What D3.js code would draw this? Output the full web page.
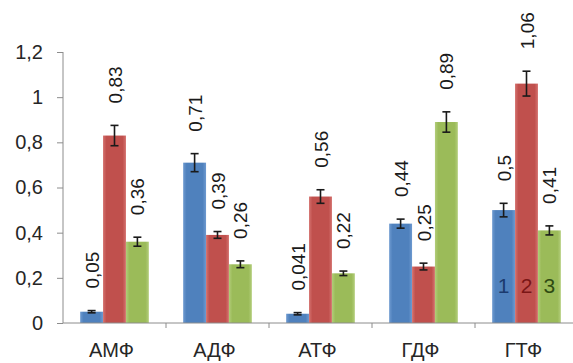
<!DOCTYPE html>
<html>
<head>
<meta charset="utf-8">
<script src="https://cdn.jsdelivr.net/npm/d3@7"></script>
<style>
  body { margin: 0; background: #fff; }
  svg text { font-family: "Liberation Sans", Arial, sans-serif; }
</style>
</head>
<body>
<div id="chart"></div>
<script>
// data
var categories = ["АМФ", "АДФ", "АТФ", "ГДФ", "ГТФ"];
var series = ["1", "2", "3"];
var values1 = [0.05, 0.71, 0.041, 0.44, 0.5];
var values2 = [0.83, 0.39, 0.56, 0.25, 1.06];
var values3 = [0.36, 0.26, 0.22, 0.89, 0.41];
var errors1 = [0.005, 0.04, 0.005, 0.02, 0.03];
var errors2 = [0.045, 0.015, 0.03, 0.015, 0.055];
var errors3 = [0.02, 0.015, 0.01, 0.045, 0.02];
var yTicks = [0, 0.2, 0.4, 0.6, 0.8, 1, 1.2];

var colors = ["#4f81bd", "#c0504d", "#9bbb59"];
var lightColors = ["#6e9ad0", "#d4716e", "#b2cd7a"];
var numColors = ["#1b3a6e", "#7a1616", "#2f4a12"];

var width = 573, height = 363;
var margin = {top: 52, right: -5, bottom: 40, left: 63};

var data = [];
categories.forEach(function(c, i) {
  [values1, values2, values3].forEach(function(arr, s) {
    var err = [errors1, errors2, errors3][s];
    data.push({cat: c, s: s, key: series[s], v: arr[i], e: err[i]});
  });
});

var svg = d3.select("#chart").append("svg")
  .attr("width", width)
  .attr("height", height);

// gradients, lighter at the edges like the old office bars
var defs = svg.append("defs");
colors.forEach(function(c, i) {
  var g = defs.append("linearGradient")
    .attr("id", "grad" + i)
    .attr("x1", "0").attr("x2", "1").attr("y1", "0").attr("y2", "0");
  g.append("stop").attr("offset", "0").attr("stop-color", lightColors[i]);
  g.append("stop").attr("offset", "0.15").attr("stop-color", c);
  g.append("stop").attr("offset", "0.85").attr("stop-color", c);
  g.append("stop").attr("offset", "1").attr("stop-color", lightColors[i]);
});

var x0 = d3.scaleBand()
  .domain(categories)
  .range([margin.left, width - margin.right])
  .padding(0);

var x1 = d3.scaleBand()
  .domain(series)
  .range([0, x0.bandwidth()])
  .paddingInner(0)
  .paddingOuter(0.75);

var y = d3.scaleLinear()
  .domain([0, 1.2])
  .range([height - margin.bottom, margin.top]);

var fmt = function(v) { return String(v).replace(".", ","); };

// y axis
var yAxis = svg.append("g")
  .attr("transform", "translate(" + margin.left + ",0)")
  .call(d3.axisLeft(y).tickValues(yTicks).tickSize(6).tickPadding(14).tickFormat(fmt));
yAxis.select(".domain").attr("stroke", "#8c8c8c").attr("d", "M0," + y(1.2) + "V" + y(0));
yAxis.selectAll(".tick line").attr("stroke", "#8c8c8c");
yAxis.selectAll(".tick text")
  .attr("fill", "#262626")
  .style("font-size", "20px");

// bars
var bars = svg.append("g");
bars.selectAll("rect")
  .data(data)
  .enter().append("rect")
  .attr("x", function(d) { return x0(d.cat) + x1(d.key); })
  .attr("y", function(d) { return y(d.v); })
  .attr("width", x1.bandwidth())
  .attr("height", function(d) { return y(0) - y(d.v); })
  .attr("fill", function(d) { return "url(#grad" + d.s + ")"; });

// error bars
var eb = svg.append("g").attr("stroke", "#1a1a1a").attr("stroke-width", 1.6);
data.forEach(function(d) {
  var cx = x0(d.cat) + x1(d.key) + x1.bandwidth() / 2;
  eb.append("line")
    .attr("x1", cx).attr("x2", cx)
    .attr("y1", y(d.v + d.e)).attr("y2", y(d.v - d.e));
  [d.v + d.e, d.v - d.e].forEach(function(t) {
    eb.append("line")
      .attr("x1", cx - 4).attr("x2", cx + 4)
      .attr("y1", y(t)).attr("y2", y(t));
  });
});

// x axis
var xg = svg.append("g");
xg.append("line")
  .attr("x1", margin.left).attr("x2", width)
  .attr("y1", y(0)).attr("y2", y(0))
  .attr("stroke", "#8c8c8c");
categories.forEach(function(c) {
  var bx = x0(c) + x0.bandwidth();
  xg.append("line")
    .attr("x1", bx).attr("x2", bx)
    .attr("y1", y(0)).attr("y2", y(0) + 5)
    .attr("stroke", "#8c8c8c");
});
xg.selectAll("text")
  .data(categories)
  .enter().append("text")
  .attr("x", function(c) { return x0(c) + x0.bandwidth() / 2 - 3; })
  .attr("y", y(0) + 34)
  .attr("text-anchor", "middle")
  .attr("fill", "#262626")
  .style("font-size", "20px")
  .text(function(c) { return c; });

// value labels, rotated
svg.append("g").selectAll("text")
  .data(data)
  .enter().append("text")
  .attr("transform", function(d) {
    var cx = x0(d.cat) + x1(d.key) + x1.bandwidth() / 2;
    return "translate(" + (cx + 7) + "," + (y(d.v + d.e) - 22) + ") rotate(-90)";
  })
  .attr("fill", "#1a1a1a")
  .style("font-size", "19px")
  .text(function(d) { return fmt(d.v); });

// series numbers inside the last group
svg.append("g").selectAll("text")
  .data(series)
  .enter().append("text")
  .attr("x", function(k) { return x0(categories[4]) + x1(k) + x1.bandwidth() / 2; })
  .attr("y", y(0) - 30)
  .attr("text-anchor", "middle")
  .attr("fill", function(k, i) { return numColors[i]; })
  .style("font-size", "21px")
  .text(function(k) { return k; });
</script>
</body>
</html>
